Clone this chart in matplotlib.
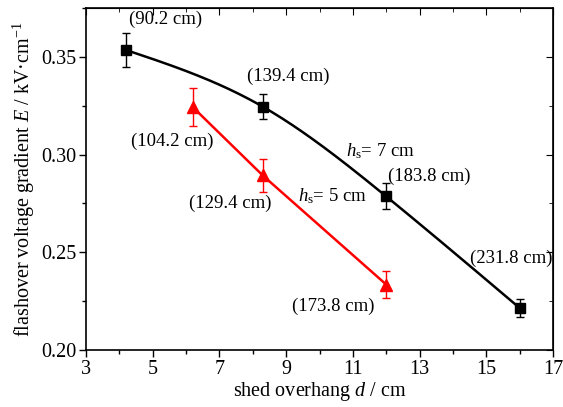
import numpy as np
import matplotlib
matplotlib.use("Agg")
import matplotlib.pyplot as plt
from matplotlib.ticker import MultipleLocator

plt.rcParams['font.family'] = ['Liberation Serif', 'DejaVu Serif']
plt.rcParams['mathtext.fontset'] = 'custom'
plt.rcParams['mathtext.rm'] = 'Liberation Serif'
plt.rcParams['mathtext.it'] = 'Liberation Serif:italic'

# data
d7 = [4.2, 8.3, 12.0, 16.0]
E7 = [0.3535, 0.3245, 0.2786, 0.2215]
err7 = [0.0088, 0.0064, 0.0066, 0.0048]
lab7 = ["(90.2 cm)", "(139.4 cm)", "(183.8 cm)", "(231.8 cm)"]

d5 = [6.2, 8.3, 12.0]
E5 = [0.3243, 0.2893, 0.2335]
err5 = [0.0098, 0.0082, 0.0068]
lab5 = ["(104.2 cm)", "(129.4 cm)", "(173.8 cm)"]


def natural_spline(x, y, n=200):
    x = np.asarray(x, float); y = np.asarray(y, float)
    m = len(x); h = np.diff(x)
    A = np.zeros((m, m)); b = np.zeros(m)
    A[0, 0] = A[-1, -1] = 1
    for i in range(1, m - 1):
        A[i, i - 1] = h[i - 1]; A[i, i] = 2 * (h[i - 1] + h[i]); A[i, i + 1] = h[i]
        b[i] = 3 * ((y[i + 1] - y[i]) / h[i] - (y[i] - y[i - 1]) / h[i - 1])
    c = np.linalg.solve(A, b)
    xs = np.linspace(x[0], x[-1], n); ys = np.empty_like(xs)
    for k, xv in enumerate(xs):
        i = min(np.searchsorted(x, xv, side='right') - 1, m - 2)
        dx = xv - x[i]
        bi = (y[i + 1] - y[i]) / h[i] - h[i] * (2 * c[i] + c[i + 1]) / 3
        di = (c[i + 1] - c[i]) / (3 * h[i])
        ys[k] = y[i] + bi * dx + c[i] * dx ** 2 + di * dx ** 3
    return xs, ys


fig = plt.figure(figsize=(5.63, 4.07), dpi=100)
ax = fig.add_axes([86 / 563, 1 - 350 / 407, (553 - 86) / 563, (350 - 8) / 407])

xs, ys = natural_spline(d7, E7)
ax.plot(xs, ys, color='black', lw=1.8, zorder=2)
ax.errorbar(d7, E7, yerr=err7, fmt='s', color='black', ms=7.5, capsize=3,
            elinewidth=1, capthick=1, zorder=3)

ax.plot(d5, E5, color='red', lw=1.8, zorder=2)
ax.errorbar(d5, E5, yerr=err5, fmt='^', color='red', ms=9, capsize=3,
            elinewidth=1, capthick=1, zorder=3)

fs = 13.5
ax.text(4.28, 0.3690, lab7[0], fontsize=fs, ha='left', va='center')
ax.text(9.05, 0.3398, lab7[1], fontsize=fs, ha='center', va='center')
ax.text(13.3, 0.2888, lab7[2], fontsize=fs, ha='center', va='center')
ax.text(15.75, 0.2470, lab7[3], fontsize=fs, ha='center', va='center')
ax.text(5.6, 0.3070, lab5[0], fontsize=fs, ha='center', va='center')
ax.text(7.33, 0.2750, lab5[1], fontsize=fs, ha='center', va='center')
ax.text(10.4, 0.2224, lab5[2], fontsize=fs, ha='center', va='center')
ax.text(10.8, 0.3020, r'$h_{\rm s}$= 7 cm', fontsize=fs, ha='left', va='center')
ax.text(9.35, 0.2786, r'$h_{\rm s}$= 5 cm', fontsize=fs, ha='left', va='center')

ax.set_xlim(3, 17)
ax.set_ylim(0.20, 0.375)
ax.set_xticks(np.arange(3, 18, 2))
ax.set_yticks([0.20, 0.25, 0.30, 0.35])
ax.set_yticklabels(['0.20', '0.25', '0.30', '0.35'])
ax.xaxis.set_minor_locator(MultipleLocator(1))
ax.yaxis.set_minor_locator(MultipleLocator(0.025))
ax.tick_params(which='both', labelsize=14.5, width=1)
ax.tick_params(which='major', length=5)
ax.tick_params(which='minor', length=3)
ax.tick_params(which='both', direction='out', top=False, right=False)
ax.tick_params(which='major', pad=2)
ax2 = ax.secondary_xaxis('top')
ax2.set_xticks(np.arange(3, 18, 2)); ax2.set_xticklabels([])
ax2.xaxis.set_minor_locator(MultipleLocator(1))
ax2.tick_params(which='both', direction='in')
ax2.tick_params(which='major', length=5); ax2.tick_params(which='minor', length=3)
ax3 = ax.secondary_yaxis('right')
ax3.set_yticks([0.20, 0.25, 0.30, 0.35]); ax3.set_yticklabels([])
ax3.yaxis.set_minor_locator(MultipleLocator(0.025))
ax3.tick_params(which='both', direction='in')
ax3.tick_params(which='major', length=5); ax3.tick_params(which='minor', length=3)
for s in ax.spines.values():
    s.set_linewidth(1.2)

ax.set_xlabel(r'shed overhang $d$ / cm', fontsize=14.5, labelpad=1)
ax.set_ylabel(r'flashover voltage gradient $E$ / kV·cm$^{-1}$', fontsize=14.5, labelpad=3)

fig.savefig('out.png', dpi=100)
